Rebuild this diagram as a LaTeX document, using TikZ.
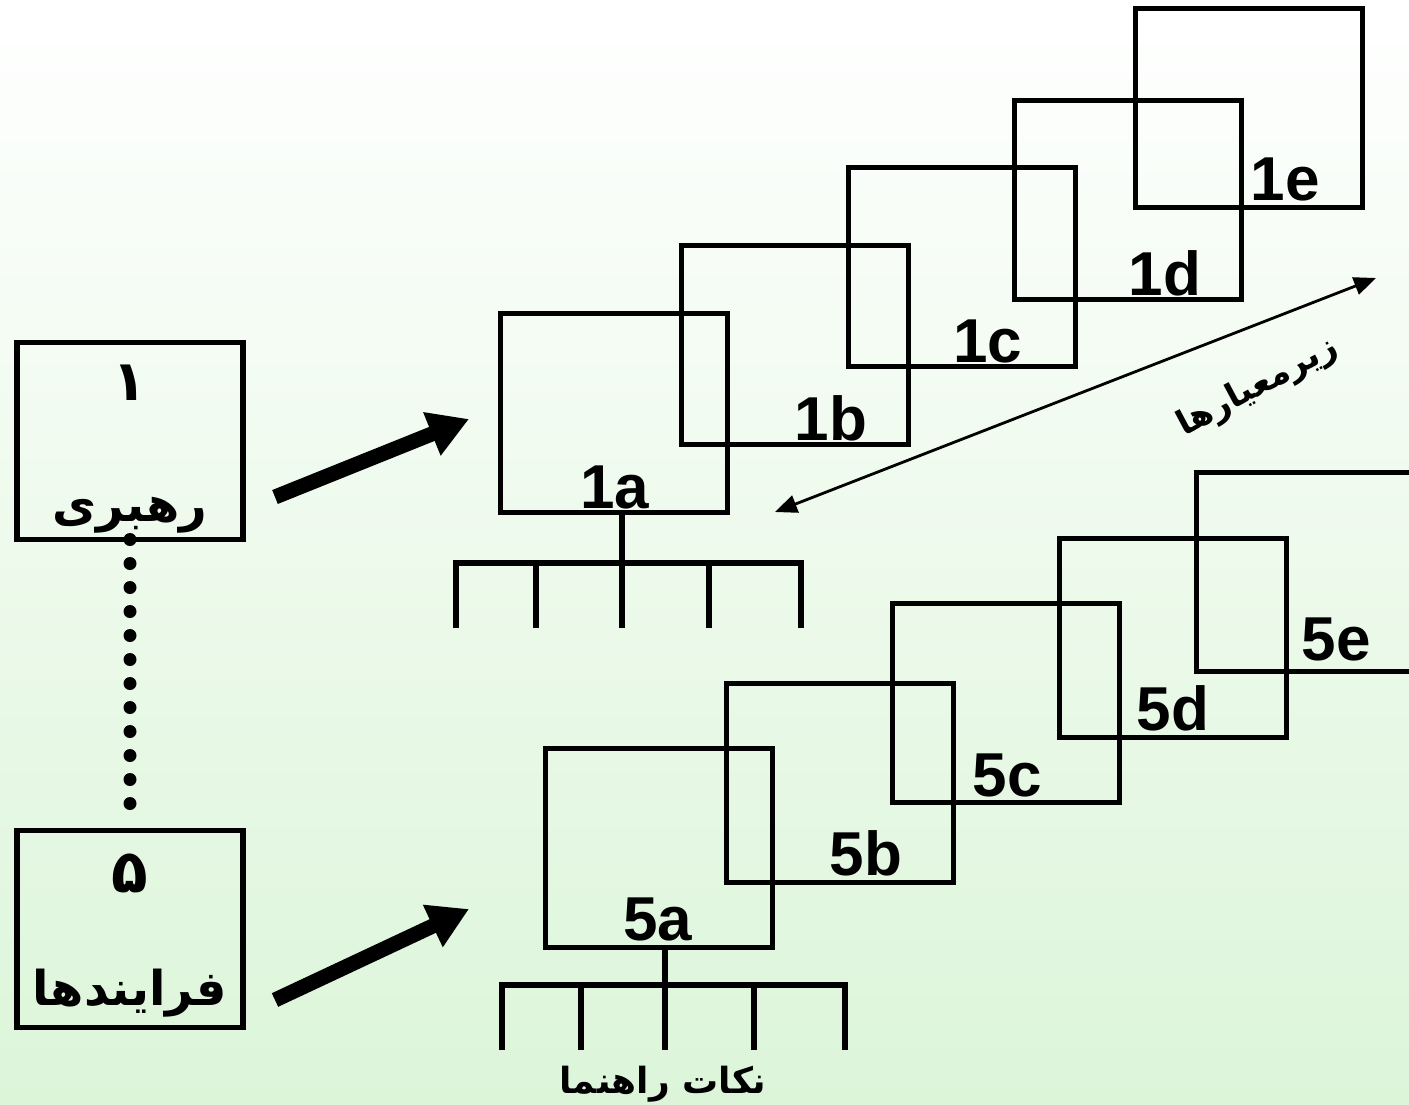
\documentclass[tikz,border=0pt]{standalone}
\usepackage{fontspec}
\usetikzlibrary{arrows.meta,calc}
\TeXXeTstate=1
\newfontfamily\arabicfont[Script=Arabic]{DejaVu Sans}
\newfontfamily\latinfont{Liberation Sans}
\definecolor{bgtop}{RGB}{255,255,255}
\definecolor{bgbottom}{RGB}{220,245,217}

\begin{document}
\begin{tikzpicture}[x=0.5pt,y=-0.5pt,
  crit/.style={draw,line width=2.5pt,minimum width=113.5pt,minimum height=99.5pt,inner sep=0pt,outer sep=0pt},
  mainbox/.style={draw,line width=2.6pt,minimum width=113pt,minimum height=98.5pt,inner sep=0pt,outer sep=0pt},
  sublabel/.style={font=\latinfont\bfseries\fontsize{31}{31}\selectfont,inner sep=0pt,anchor=base},
  fa/.style={font=\arabicfont\bfseries\fontsize{#1}{#1}\selectfont,inner sep=0pt,anchor=base},
  branch/.style={line width=2.8pt},
  bigarrow/.style={line width=7.5pt,-{Triangle[length=20pt,width=22pt]}},
  thinarrow/.style={line width=1.4pt,{Triangle[length=11pt,width=9pt]}-{Triangle[length=11pt,width=9pt]}},
  dots/.style={line width=6.5pt,line cap=round,dash pattern=on 0pt off 12pt}
]
% background
\shade[top color=bgtop,bottom color=bgbottom] (0,0) rectangle (1409,1104);
\useasboundingbox (0,0) rectangle (1409,1104);
\clip (0,0) rectangle (1409,1104);

% main criteria
\node[mainbox] (m1) at (130,441) {};
\node[mainbox] (m5) at (130,929) {};
\node[fa=28] (m1n) at (130,400) {\beginR ۱\endR};
\node[fa=24] (m1t) at (130,521) {\beginR رهبری\endR};
\node[fa=30] (m5n) at (130,892) {\beginR ۵\endR};
\node[fa=24] (m5t) at (130,1005) {\beginR فرایندها\endR};
\draw[dots] (m1.south) -- ($(m5.north)+(0,-25)$);

% sub-criteria of criterion 1
\node[crit] (b1a) at (613.5,412.5) {};
\node[crit] (b1b) at (794.5,345) {};
\node[crit] (b1c) at (962,267) {};
\node[crit] (b1d) at (1128,199.5) {};
\node[crit] (b1e) at (1248.5,108) {};
\node[sublabel] (l1a) at (615,508) {1a};
\node[sublabel] (l1b) at (831,440) {1b};
\node[sublabel] (l1c) at (988,362) {1c};
\node[sublabel] (l1d) at (1165,295) {1d};
\node[sublabel] (l1e) at (1285,200) {1e};

% sub-criteria of criterion 5
\node[crit] (b5a) at (658.5,847.5) {};
\node[crit] (b5b) at (840,782.5) {};
\node[crit] (b5c) at (1006,702.5) {};
\node[crit] (b5d) at (1173,637.5) {};
\node[crit] (b5e) at (1309.5,571.5) {};
\node[sublabel] (l5a) at (658,940) {5a};
\node[sublabel] (l5b) at (866,875) {5b};
\node[sublabel] (l5c) at (1007,796) {5c};
\node[sublabel] (l5d) at (1173,730) {5d};
\node[sublabel] (l5e) at (1336,660) {5e};

% guideline trees
\coordinate (t1) at (622,563);
\draw[branch] (b1a.south -| t1) -- (t1);
\coordinate (t1l) at (456,563);
\coordinate (t1r) at (801,563);
\draw[branch] ($(t1l)+(0,65)$) -- (t1l) -- (t1r) -- ($(t1r)+(0,65)$);
\foreach \x [count=\i] in {536,622,709}
  \draw[branch] (\x,563) coordinate (t1d\i) -- ($(t1d\i)+(0,65)$);

\coordinate (t5) at (665,985);
\draw[branch] (b5a.south -| t5) -- (t5);
\coordinate (t5l) at (502,985);
\coordinate (t5r) at (845,985);
\draw[branch] ($(t5l)+(0,65)$) -- (t5l) -- (t5r) -- ($(t5r)+(0,65)$);
\foreach \x [count=\i] in {581,665,754}
  \draw[branch] (\x,985) coordinate (t5d\i) -- ($(t5d\i)+(0,65)$);
\node[fa=18] (guide) at (663,1093) {\beginR نکات راهنما\endR};

% arrows
\coordinate (a1s) at (275,497);
\coordinate (a1e) at (469,419);
\draw[bigarrow] (a1s) -- (a1e);
\coordinate (a5s) at (275,1000);
\coordinate (a5e) at (469,909);
\draw[bigarrow] (a5s) -- (a5e);

\coordinate (s1) at (775,512);
\coordinate (s2) at (1376,278);
\draw[thinarrow] (s1) -- (s2);
\node[font=\arabicfont\bfseries\fontsize{17}{17}\selectfont,inner sep=0pt,rotate=28] (sub) at (1258,387) {\beginR زیرمعیارها\endR};
\end{tikzpicture}
\end{document}
